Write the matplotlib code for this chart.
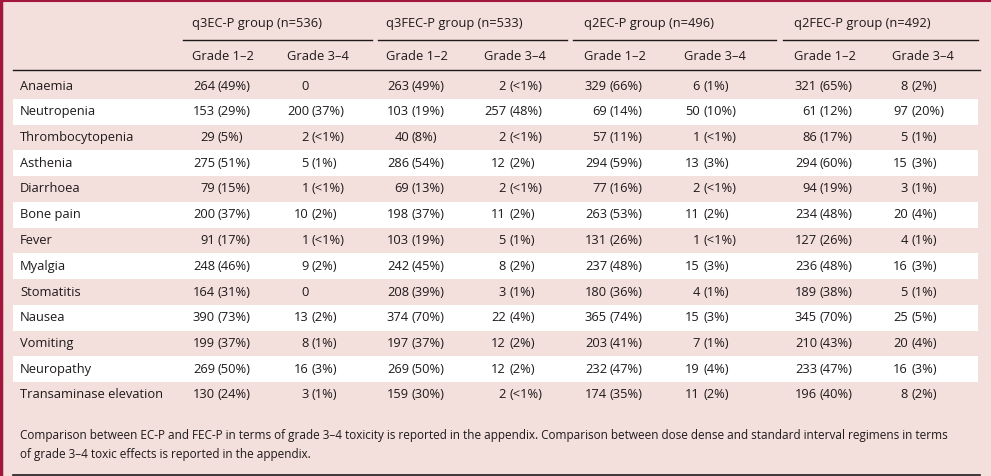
import matplotlib
matplotlib.use("Agg")
import matplotlib.pyplot as plt

# table content
events = ["Anaemia", "Neutropenia", "Thrombocytopenia", "Asthenia", "Diarrhoea",
          "Bone pain", "Fever", "Myalgia", "Stomatitis", "Nausea", "Vomiting",
          "Neuropathy", "Transaminase elevation"]
groups = ["q3EC-P group (n=536)", "q3FEC-P group (n=533)",
          "q2EC-P group (n=496)", "q2FEC-P group (n=492)"]
grades = ["Grade 1\u20132", "Grade 3\u20134"]

q3ec_g12 = ["264 (49%)", "153 (29%)", "29 (5%)", "275 (51%)", "79 (15%)", "200 (37%)", "91 (17%)",
            "248 (46%)", "164 (31%)", "390 (73%)", "199 (37%)", "269 (50%)", "130 (24%)"]
q3ec_g34 = ["0", "200 (37%)", "2 (<1%)", "5 (1%)", "1 (<1%)", "10 (2%)", "1 (<1%)",
            "9 (2%)", "0", "13 (2%)", "8 (1%)", "16 (3%)", "3 (1%)"]
q3fec_g12 = ["263 (49%)", "103 (19%)", "40 (8%)", "286 (54%)", "69 (13%)", "198 (37%)", "103 (19%)",
             "242 (45%)", "208 (39%)", "374 (70%)", "197 (37%)", "269 (50%)", "159 (30%)"]
q3fec_g34 = ["2 (<1%)", "257 (48%)", "2 (<1%)", "12 (2%)", "2 (<1%)", "11 (2%)", "5 (1%)",
             "8 (2%)", "3 (1%)", "22 (4%)", "12 (2%)", "12 (2%)", "2 (<1%)"]
q2ec_g12 = ["329 (66%)", "69 (14%)", "57 (11%)", "294 (59%)", "77 (16%)", "263 (53%)", "131 (26%)",
            "237 (48%)", "180 (36%)", "365 (74%)", "203 (41%)", "232 (47%)", "174 (35%)"]
q2ec_g34 = ["6 (1%)", "50 (10%)", "1 (<1%)", "13 (3%)", "2 (<1%)", "11 (2%)", "1 (<1%)",
            "15 (3%)", "4 (1%)", "15 (3%)", "7 (1%)", "19 (4%)", "11 (2%)"]
q2fec_g12 = ["321 (65%)", "61 (12%)", "86 (17%)", "294 (60%)", "94 (19%)", "234 (48%)", "127 (26%)",
             "236 (48%)", "189 (38%)", "345 (70%)", "210 (43%)", "233 (47%)", "196 (40%)"]
q2fec_g34 = ["8 (2%)", "97 (20%)", "5 (1%)", "15 (3%)", "3 (1%)", "20 (4%)", "4 (1%)",
             "16 (3%)", "5 (1%)", "25 (5%)", "20 (4%)", "16 (3%)", "8 (2%)"]
columns = [q3ec_g12, q3ec_g34, q3fec_g12, q3fec_g34, q2ec_g12, q2ec_g34, q2fec_g12, q2fec_g34]

footnote = ("Comparison between EC-P and FEC-P in terms of grade 3\u20134 toxicity is reported in the appendix. "
            "Comparison between dose dense and standard interval regimens in terms\n"
            "of grade 3\u20134 toxic effects is reported in the appendix.")

# layout (pixel coordinates)
W, H = 991, 476
bg = "#f3dfdb"
ink = "#1e1a1b"
crimson = "#a3173f"
col_left = [192, 287, 386, 484, 584, 684, 794, 892]   # header text left edges
num_right = [215, 309, 409, 506, 607, 700, 817, 908]  # right edge of counts
group_lines = [(183, 372), (378, 567), (573, 776), (783, 978)]
row0, row_h = 86, 25.75

plt.rcParams["font.family"] = ["Open Sans", "DejaVu Sans"]
fs = 9.3

fig = plt.figure(figsize=(W / 100, H / 100), dpi=100, facecolor=bg)
ax = fig.add_axes([0, 0, 1, 1])
ax.set_xlim(0, W)
ax.set_ylim(H, 0)
ax.axis("off")

# alternating white bands
for i in range(len(events)):
    y = row0 + i * row_h
    if i % 2 == 1:
        ax.add_patch(plt.Rectangle((13, y - row_h / 2), 965, row_h, color="white", lw=0, zorder=0))

# frame lines
ax.plot([0, W], [0.5, 0.5], color=crimson, lw=1.5)
ax.plot([1, 1], [0, H], color=crimson, lw=2.5)
ax.plot([13, 980], [70, 70], color=ink, lw=1)
ax.plot([13, 980], [474.5, 474.5], color=ink, lw=1.2)

# headers
for g, name in enumerate(groups):
    ax.text(col_left[2 * g], 24, name, fontsize=fs, color=ink, va="center", ha="left")
    x0, x1 = group_lines[g]
    ax.plot([x0, x1], [40, 40], color=ink, lw=1)
    for k in range(2):
        ax.text(col_left[2 * g + k], 56, grades[k], fontsize=fs, color=ink, va="center", ha="left")

# body
for i, ev in enumerate(events):
    y = row0 + i * row_h
    ax.text(20, y, ev, fontsize=fs, color=ink, va="center", ha="left")
    for c, vals in enumerate(columns):
        cell = vals[i]
        num, _, pct = cell.partition(" ")
        ax.text(num_right[c], y, num, fontsize=fs, color=ink, va="center", ha="right")
        if pct:
            ax.text(num_right[c] + 3, y, pct, fontsize=fs, color=ink, va="center", ha="left")

ax.text(20, 445, footnote, fontsize=8.5, color=ink, va="center", ha="left", linespacing=1.6)

fig.savefig("out.png", dpi=100, facecolor=bg)
